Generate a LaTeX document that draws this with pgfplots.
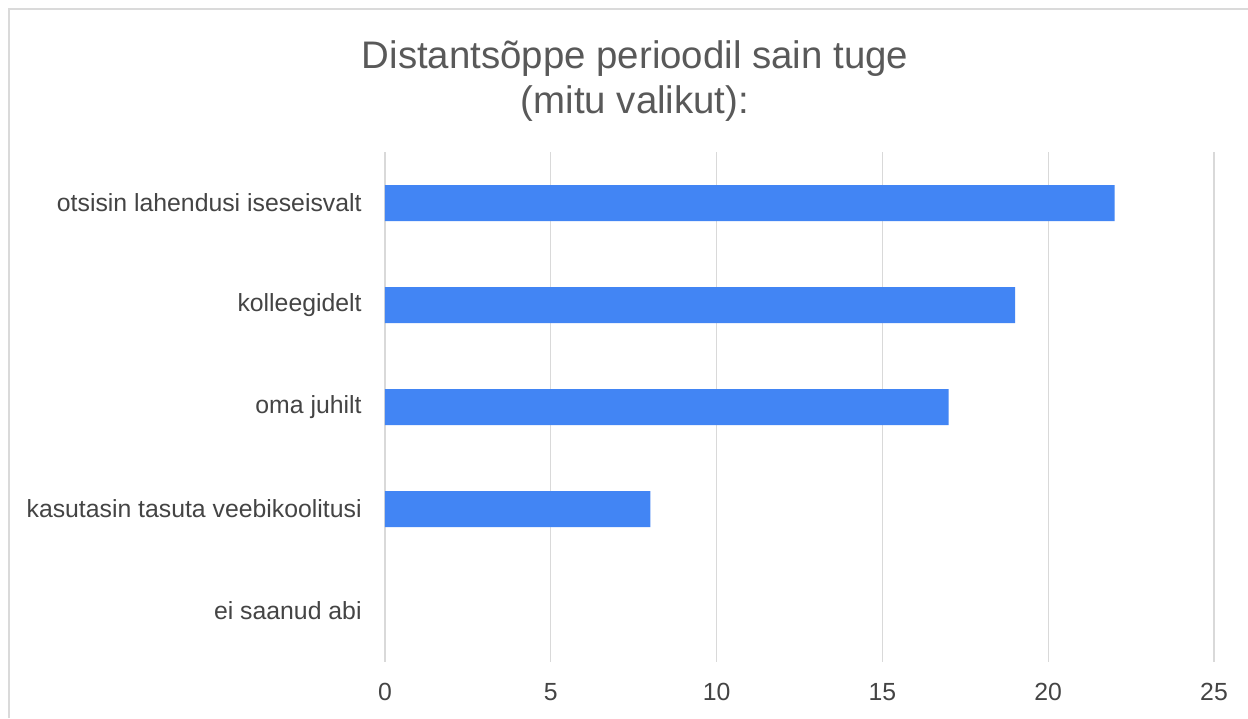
\documentclass[border=0pt]{standalone}
\usepackage{fontspec}
\setmainfont{Liberation Sans}
\usepackage{pgfplots}
\pgfplotsset{compat=1.18}
\definecolor{barblue}{HTML}{4285F4}
\definecolor{gridgray}{HTML}{D9D9D9}
\definecolor{framegray}{HTML}{DADADA}
\definecolor{txt}{HTML}{444444}
\definecolor{titlecol}{HTML}{595959}
\begin{document}
\begin{tikzpicture}
\useasboundingbox (0,0) rectangle (624pt,359pt);
\fill[white] (0,0) rectangle (624pt,359pt);
\draw[framegray, line width=1.2pt] (4.5pt,0) -- (4.5pt,354.5pt) -- (624pt,354.5pt);
\begin{axis}[
  at={(192.5pt,28pt)}, anchor=south west,
  scale only axis, width=414.5pt, height=255pt,
  xbar, bar width=18pt,
  xmin=0, xmax=25, xtick={0,5,...,25},
  ymin=-0.5, ymax=4.5, y dir=reverse,
  ytick={0,1,2,3,4},
  yticklabels={otsisin lahendusi iseseisvalt, kolleegidelt, oma juhilt, kasutasin tasuta veebikoolitusi, ei saanud abi},
  axis line style={draw=none},
  major tick length=0pt,
  xmajorgrids, grid style={gridgray, line width=0.6pt},
  tick label style={font=\fontsize{12.4}{14}\selectfont, text=txt},
  yticklabel style={inner sep=0pt, xshift=-11.5pt},
  xticklabel style={inner sep=0pt, yshift=-10.5pt},
  /pgf/number format/assume math mode=true,
  title={Distantsõppe perioodil sain tuge\\(mitu valikut):},
  title style={at={(0.3016,1.116)}, anchor=center, align=center,
    font=\fontsize{19.2}{22.5}\selectfont, text=titlecol},
]
% "ei saanud abi" = 0 (no bar drawn)
\addplot[fill=barblue, draw=none] coordinates {(22,0) (19,1) (17,2) (8,3)};
\end{axis}
\end{tikzpicture}
\end{document}
